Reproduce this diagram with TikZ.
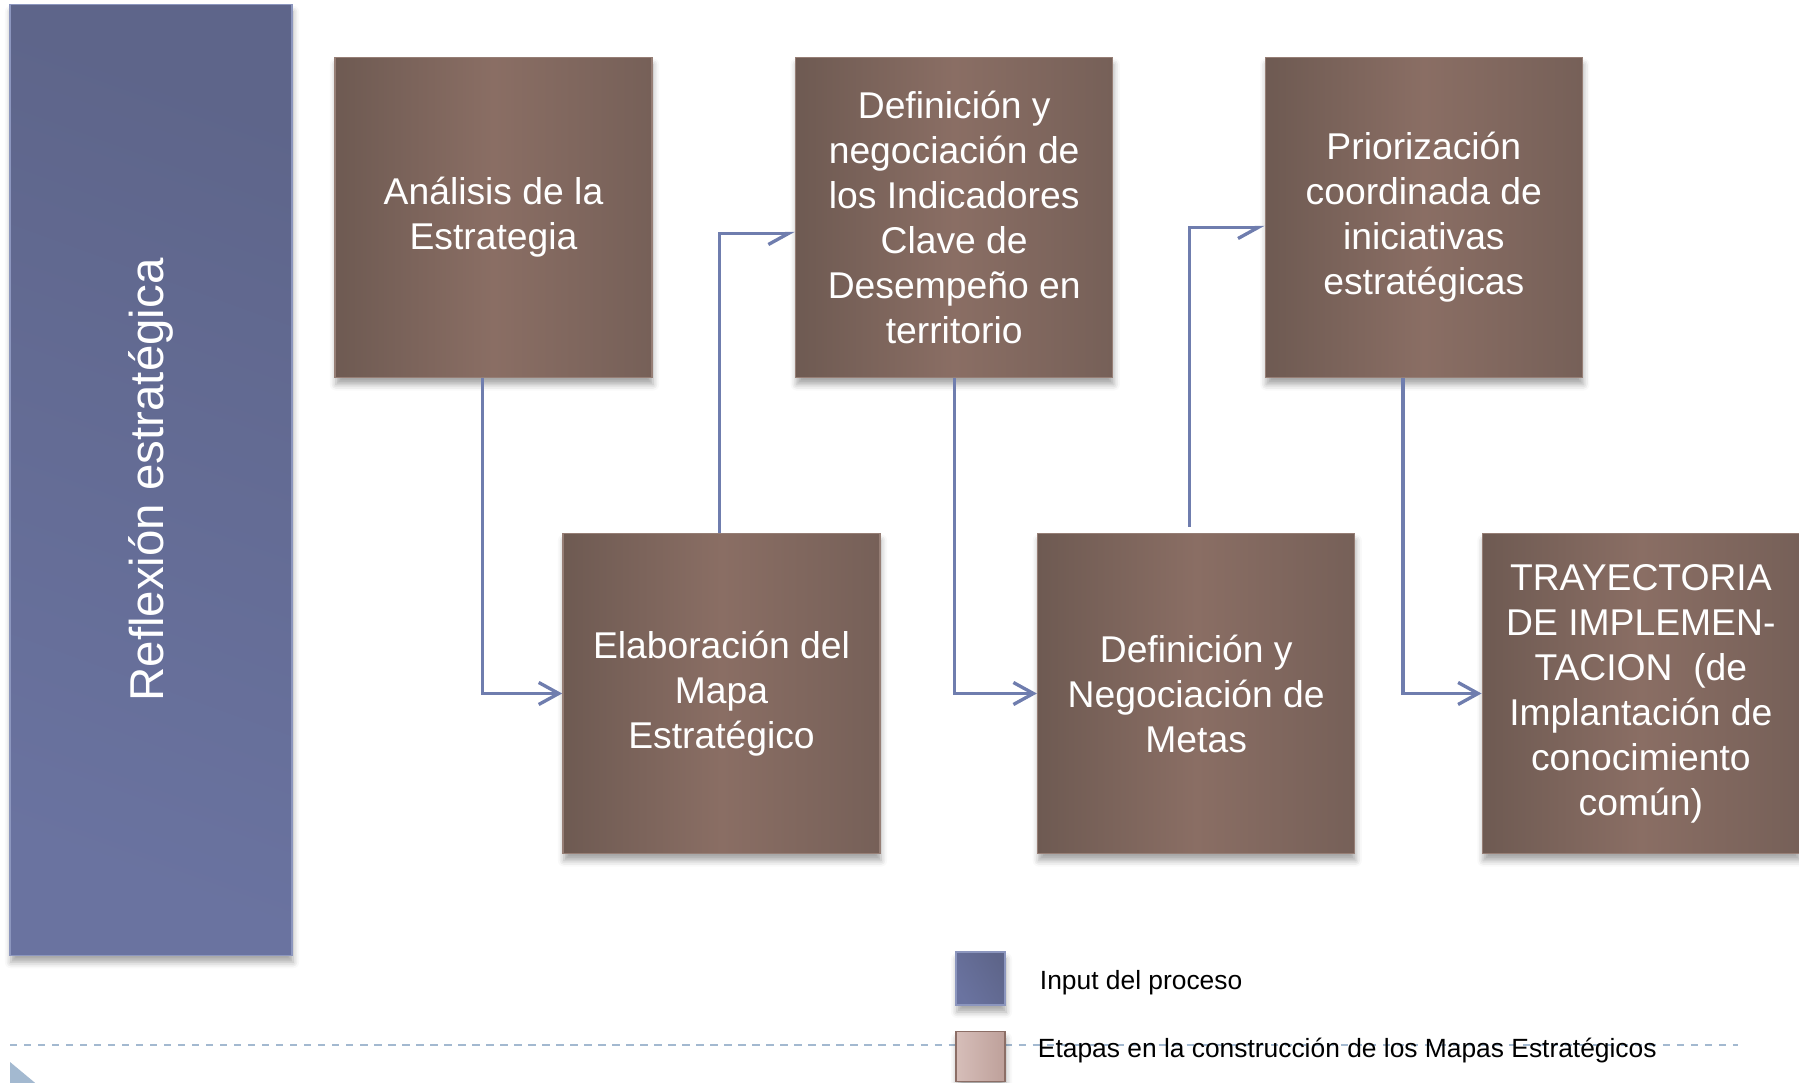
\documentclass[tikz,border=0pt]{standalone}
\usepackage{fontspec}
\setmainfont{Liberation Sans}
\usepackage{tikz}
\usetikzlibrary{positioning, shapes, arrows.meta, shadows.blur}

\definecolor{cafeOsc}{RGB}{110,90,82}
\definecolor{cafeClaro}{RGB}{138,110,100}
\definecolor{cafeDer}{RGB}{118,96,88}
\definecolor{cafeBorde}{RGB}{150,126,117}
\definecolor{azulOsc}{RGB}{94,101,138}
\definecolor{azulClaro}{RGB}{106,115,160}
\definecolor{azulBorde}{RGB}{140,150,190}
\definecolor{flechaAzul}{RGB}{111,125,174}
\definecolor{grisAzul}{RGB}{163,185,208}
\definecolor{rosaClaro}{RGB}{214,190,185}
\definecolor{rosaOsc}{RGB}{190,160,154}
\definecolor{rosaBorde}{RGB}{140,110,102}

\tikzset{
  sombra/.style={blur shadow={shadow xshift=0.1mm, shadow yshift=-0.7mm, shadow blur radius=0.6mm, shadow opacity=35}},
  etapa/.style={rectangle, draw=cafeBorde, line width=0.4pt, sombra,
    left color=cafeOsc, right color=cafeDer, middle color=cafeClaro,
    minimum width=3.17cm, minimum height=3.2cm, text=white, align=center,
    font=\fontsize{10.6}{12.8}\selectfont},
  entrada/.style={rectangle, draw=azulBorde, line width=0.4pt, sombra,
    top color=azulOsc, bottom color=azulClaro, shading angle=-20},
  flecha/.style={draw=flechaAzul, line width=0.95pt, -{Straight Barb[length=2mm, width=2.2mm]}},
  flechamedia/.style={draw=flechaAzul, line width=0.95pt, -{Straight Barb[right, length=2mm, width=2.2mm]}},
  leyenda/.style={font=\fontsize{7.5}{9}\selectfont, inner sep=1pt},
  guia/.style={draw=grisAzul, line width=0.55pt, dash pattern=on 0.073cm off 0.067cm},
}

\begin{document}
\begin{tikzpicture}[x=0.01cm, y=-0.01cm]
\useasboundingbox (0,0) rectangle (1799,1083);

% linea guia del pie
\draw[guia] (10,1045) -- (1738,1045);
\begin{scope}
  \clip (0,0) rectangle (1799,1083);
  \fill[grisAzul] (10,1062) -- (10,1122) -- (46,1092) -- cycle;
\end{scope}

% Input del proceso
\node[entrada, minimum width=2.82cm, minimum height=9.5cm] (reflexion) at (151,480) {};
\node[rotate=90, text=white, font=\fontsize{13.5}{16}\selectfont] (reflexiontxt) at (reflexion.center) {Reflexión estratégica};

% Etapas: fila superior
\node[etapa] (analisis) at (493.5,217.5) {Análisis de la\\Estrategia};
\node[etapa, right=1.42cm of analisis] (indicadores) {Definición y\\negociación de\\los Indicadores\\Clave de\\Desempeño en\\territorio};
\node[etapa, right=1.51cm of indicadores] (priorizacion) {Priorización\\coordinada de\\iniciativas\\estratégicas};

% Etapas: fila inferior
\node[etapa] (mapa) at (721.5,693.5) {Elaboración del\\Mapa\\Estratégico};
\node[etapa, right=1.56cm of mapa] (metas) {Definición y\\Negociación de\\Metas};
\node[etapa, right=1.26cm of metas] (trayectoria) {TRAYECTORIA\\DE IMPLEMEN-\\TACION\ \ (de\\Implantación de\\conocimiento\\común)};

% Flechas
\draw[flecha] ([xshift=-0.11cm]analisis.south) |- (mapa.west);
\draw[flechamedia] ([xshift=-0.02cm]mapa.north) |- ([yshift=-0.16cm]indicadores.west);
\draw[flecha] (indicadores.south) |- (metas.west);
\draw[flechamedia] ([xshift=-0.07cm, yshift=0.06cm]metas.north) |- ([yshift=-0.1cm]priorizacion.west);
\draw[flecha] ([xshift=-0.21cm]priorizacion.south) |- (trayectoria.west);

% Leyenda
\node[entrada, shading angle=-60, minimum width=0.49cm, minimum height=0.53cm] (leyinput) at (980.5,978.5) {};
\node[leyenda, right=0.3cm of leyinput, yshift=-0.04cm] (txtinput) {Input del proceso};
\node[rectangle, draw=rosaBorde, line width=0.4pt, sombra, left color=rosaClaro, right color=rosaOsc,
  minimum width=0.49cm, minimum height=0.5cm] (leyetapas) at (980.5,1056.5) {};
\node[leyenda, right=0.28cm of leyetapas, yshift=0.06cm] (txtetapas) {Etapas en la construcción de los Mapas Estratégicos};
\end{tikzpicture}
\end{document}
